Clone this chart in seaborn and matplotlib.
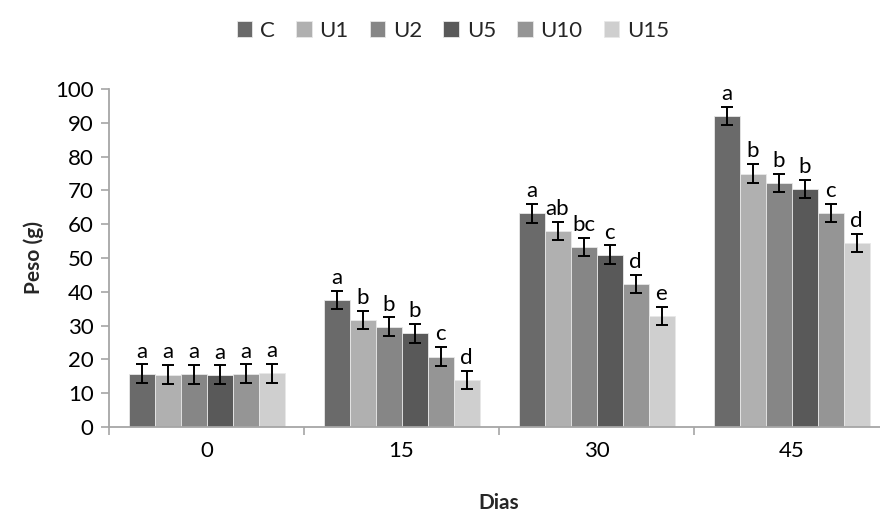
import numpy as np
import pandas as pd
import matplotlib
matplotlib.use("Agg")
import matplotlib.pyplot as plt
import seaborn as sns
from matplotlib.ticker import FixedLocator

dias = ["0", "15", "30", "45"]
tratamentos = ["C", "U1", "U2", "U5", "U10", "U15"]

peso_C   = [15.7, 37.6, 63.2, 92.0]
peso_U1  = [15.5, 31.6, 58.0, 75.0]
peso_U2  = [15.6, 29.7, 53.2, 72.3]
peso_U5  = [15.4, 27.7, 51.0, 70.4]
peso_U10 = [15.7, 20.8, 42.2, 63.3]
peso_U15 = [15.9, 13.8, 32.8, 54.5]

erro_C   = [2.8, 2.7, 2.7, 2.7]
erro_U1  = [2.8, 2.7, 2.7, 2.7]
erro_U2  = [2.8, 2.7, 2.7, 2.7]
erro_U5  = [2.8, 2.7, 2.7, 2.7]
erro_U10 = [2.8, 2.8, 2.7, 2.7]
erro_U15 = [2.8, 2.7, 2.7, 2.7]

letras_C   = ["a", "a", "a", "a"]
letras_U1  = ["a", "b", "ab", "b"]
letras_U2  = ["a", "b", "bc", "b"]
letras_U5  = ["a", "b", "c", "b"]
letras_U10 = ["a", "c", "d", "c"]
letras_U15 = ["a", "d", "e", "d"]

cores = ["#6a6a6a", "#b0b0b0", "#868686", "#595959", "#959595", "#cfcfcf"]

pesos = [peso_C, peso_U1, peso_U2, peso_U5, peso_U10, peso_U15]
erros = [erro_C, erro_U1, erro_U2, erro_U5, erro_U10, erro_U15]
letras = [letras_C, letras_U1, letras_U2, letras_U5, letras_U10, letras_U15]

rows = []
for t, vals in zip(tratamentos, pesos):
    for d, v in zip(dias, vals):
        rows.append({"Dias": d, "Peso": v, "Tratamento": t})
df = pd.DataFrame(rows)

sns.set_theme(style="white")
plt.rcParams["font.family"] = ["Lato", "DejaVu Sans"]

FS = 16

fig = plt.figure(figsize=(8.8, 5.14), dpi=100)
ax = fig.add_axes([109 / 880, 87 / 514, 780 / 880, 338 / 514])

sns.barplot(data=df, x="Dias", y="Peso", hue="Tratamento", order=dias,
            hue_order=tratamentos, palette=cores, errorbar=None, width=0.8,
            saturation=1, edgecolor="#e8e8e8", linewidth=0.6, ax=ax,
            legend=True)

bar_conts = list(ax.containers)
for i, cont in enumerate(bar_conts):
    for j, bar in enumerate(cont.patches):
        xc = bar.get_x() + bar.get_width() / 2
        h = bar.get_height()
        e = erros[i][j]
        ax.errorbar(xc, h, yerr=e, fmt="none", ecolor="black", elinewidth=1.4,
                    capsize=4.5, capthick=1.4)
        ax.annotate(letras[i][j], (xc, h + e), xytext=(0, 5),
                    textcoords="offset points", ha="center", va="baseline",
                    fontsize=FS, color="black")

ax.set_xlim(-0.5, 3.5)
ax.set_ylim(0, 100)
ax.set_yticks(range(0, 101, 10))
ax.xaxis.set_minor_locator(FixedLocator([-0.5, 0.5, 1.5, 2.5, 3.5]))
ax.tick_params(axis="x", which="major", length=0, labelsize=FS, pad=10,
               colors="black")
ax.tick_params(axis="x", which="minor", length=6, width=1.2, color="#a6a6a6",
               direction="out", bottom=True)
ax.tick_params(axis="y", length=6, width=1.2, color="#a6a6a6", direction="out",
               labelsize=FS, pad=5, left=True, labelcolor="black")
for s in ["top", "right"]:
    ax.spines[s].set_visible(False)
for s in ["left", "bottom"]:
    ax.spines[s].set_color("#a6a6a6")
    ax.spines[s].set_linewidth(1.3)

ax.set_xlabel("Dias", fontsize=15, fontweight="bold", labelpad=23)
ax.set_ylabel("Peso (g)", fontsize=15, fontweight="bold", labelpad=8)

handles, labels = ax.get_legend_handles_labels()
ax.get_legend().remove()
fig.legend(handles, labels, loc="center", bbox_to_anchor=(453 / 880, 1 - 31 / 514),
           ncol=6, frameon=False, fontsize=FS, handlelength=0.7,
           handleheight=0.7, handletextpad=0.35, columnspacing=0.95)

fig.savefig("out.png", dpi=100)
